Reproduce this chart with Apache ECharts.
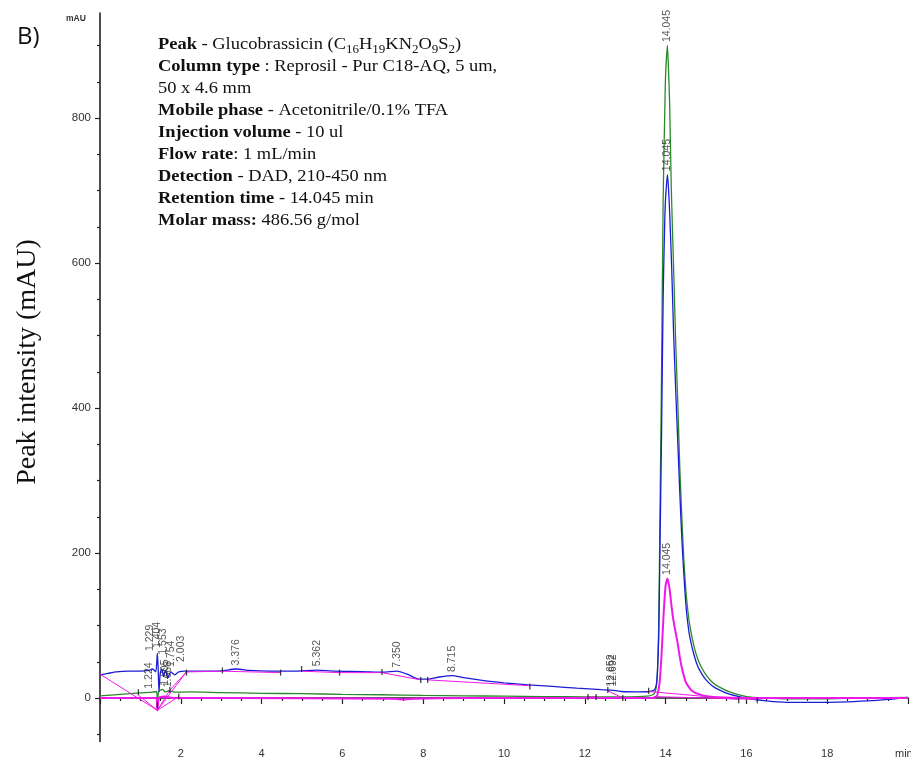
<!DOCTYPE html>
<html>
<head>
<meta charset="utf-8">
<script src="https://cdn.jsdelivr.net/npm/echarts@6/dist/echarts.min.js"></script>
<style>html,body{margin:0;padding:0;background:#fff}#c{width:911px;height:760px}</style>
</head>
<body>
<div id="c"></div>
<script>
// ---- data (time in min, intensity in mAU) ----
const xTickLabels = [2, 4, 6, 8, 10, 12, 14, 16, 18];
const yTickLabels = [0, 200, 400, 600, 800];
const yMinorTicks = [-50, 50, 100, 150, 250, 300, 350, 450, 500, 550, 650, 700, 750, 850, 900];

const blueTrace = [
  [0, 32], [0.2, 34], [0.4, 36], [0.7, 37], [1.0, 37], [1.2, 38], [1.3, 40], [1.38, 36],
  [1.42, 62], [1.44, 40], [1.46, 8], [1.49, 34], [1.53, 40], [1.57, 30], [1.62, 38],
  [1.68, 28], [1.75, 36], [1.85, 32], [1.95, 36], [2.1, 37], [2.5, 37], [3.0, 37.5],
  [3.376, 40], [3.7, 38], [4.2, 37], [4.8, 37], [5.362, 38.5], [5.8, 37], [6.5, 36.5],
  [7.0, 35.5], [7.35, 37], [7.6, 33], [7.9, 26], [8.1, 26], [8.4, 29], [8.715, 31],
  [9.0, 28], [9.5, 24], [10.0, 21], [10.6, 18], [11.2, 16], [11.8, 13.5], [12.4, 11.5],
  [12.65, 11], [12.9, 9], [13.3, 8.5], [13.6, 9], [13.72, 11], [13.77, 18], [13.80, 38],
  [13.83, 85], [13.86, 205], [13.90, 365], [13.94, 555], [13.98, 660], [14.00, 690],
  [14.045, 722], [14.07, 705], [14.10, 670], [14.15, 595], [14.20, 500], [14.25, 425],
  [14.30, 355], [14.35, 285], [14.40, 222], [14.45, 172], [14.50, 130], [14.55, 103],
  [14.60, 84], [14.70, 60], [14.80, 43], [14.90, 33], [15.00, 25], [15.15, 17], [15.30, 12],
  [15.60, 5], [16.00, 0], [16.50, -4], [17.00, -6], [18.00, -6], [19.00, -4], [19.50, -2],
  [20.00, 1]
];

const greenTrace = [
  [0, 3], [0.5, 5], [1.0, 7], [1.3, 8], [1.40, 9], [1.42, -8], [1.45, 9], [1.55, 12],
  [1.62, 8], [1.7, 10], [1.85, 8], [2.2, 8.5], [3, 7.5], [4, 6.5], [5, 6], [6, 5], [7, 4.5],
  [8, 3.5], [9, 3], [10, 2.5], [11, 2], [12, 1.5], [12.9, 1.5], [13.6, 3], [13.72, 6],
  [13.77, 16], [13.80, 40], [13.83, 100], [13.86, 250], [13.90, 450], [13.94, 690],
  [13.98, 810], [14.00, 860], [14.045, 900], [14.07, 870], [14.10, 820], [14.14, 705],
  [14.20, 590], [14.25, 490], [14.30, 410], [14.35, 320], [14.40, 252], [14.45, 192],
  [14.50, 150], [14.55, 121], [14.60, 100], [14.70, 72], [14.80, 53], [14.90, 41],
  [15.00, 32], [15.15, 22], [15.30, 16], [15.60, 8], [16.00, 2], [16.50, 0], [17, -1],
  [18, -1], [19, 0], [20, 1]
];

const magentaTrace = [
  [0, 0], [1.0, 0], [1.38, 0], [1.42, -17], [1.46, 0], [1.6, 2], [1.8, 0], [3, 0], [7.2, -1],
  [7.5, -2], [7.8, -1], [9, 0], [13.7, 0], [13.77, 2], [13.80, 5], [13.85, 20], [13.90, 60],
  [13.95, 115], [14.00, 155], [14.045, 165], [14.10, 150], [14.15, 125], [14.20, 105],
  [14.25, 90], [14.30, 75], [14.35, 57], [14.40, 42], [14.50, 22], [14.65, 10], [14.9, 4],
  [15.3, 1], [16, 0], [20, 0]
];

const baselineSegments = [
  [[0, 33], [1.42, -17]], [[0.95, 4], [1.42, -17]], [[1.42, -17], [1.73, 11]],
  [[1.42, -17], [2.14, 36]], [[1.73, 11], [2.14, 36]], [[1.42, -17], [1.95, 2]],
  [[2.14, 36], [3.03, 37]], [[3.03, 37], [4.47, 35]], [[4.99, 37], [5.93, 35]],
  [[5.93, 35], [6.98, 35]], [[6.98, 35], [7.94, 25]], [[8.11, 25], [10.64, 17]],
  [[12.08, 1.5], [12.28, 1.5]], [[12.57, 10], [12.94, 0]], [[13.58, 9], [15.81, -2]],
  [[13.7, 2], [16.27, -2]]
];

const integrationMarks = [
  [0.95, 8], [1.42, -10], [1.73, 11], [1.95, 2], [2.14, 35], [3.03, 38], [4.47, 35],
  [4.99, 40], [5.93, 35], [6.98, 36], [7.94, 25], [8.11, 25], [10.64, 16], [12.08, 1.5],
  [12.28, 1.5], [12.57, 11], [12.94, 0], [13.58, 10], [15.81, -3], [16.27, -3]
];

const peakLabels = [
  [1.229, 60, '1.229'], [1.22, 8, '1.224'], [1.404, 64, '1.404'], [1.553, 55, '1.553'],
  [1.605, 12, '1.605'], [1.68, 10, '1.668'], [1.754, 38, '1.754'], [2.003, 45, '2.003'],
  [3.376, 40, '3.376'], [5.362, 39, '5.362'], [7.350, 37, '7.350'], [8.715, 31, '8.715'],
  [12.652, 11, '12.652'], [12.692, 11, '12.692'],
  [14.045, 900, '14.045'], [14.045, 722, '14.045'], [14.045, 165, '14.045']
];

// ---- build ----
const baselineData = [];
baselineSegments.forEach(s => { baselineData.push(s[0], s[1], null); });

const chart = echarts.init(document.getElementById('c'), null, {renderer: 'canvas'});
const Y_MIN = -60, Y_MAX = 945;

const infoText = [
  '{b|Peak} - Glucobrassicin (C{s|16}H{s|19}KN{s|2}O{s|9}S{s|2})',
  '{b|Column type} : Reprosil - Pur C18-AQ, 5 um,',
  '50 x 4.6 mm',
  '{b|Mobile phase} - Acetonitrile/0.1% TFA',
  '{b|Injection volume} - 10 ul',
  '{b|Flow rate}: 1 mL/min',
  '{b|Detection} - DAD, 210-450 nm',
  '{b|Retention time} - 14.045 min',
  '{b|Molar mass:} 486.56 g/mol'
].join('\n');

const lineCommon = {type: 'line', showSymbol: false, smooth: 0.2};

const option = {
  animation: false,
  backgroundColor: '#fff',
  grid: {left: 100, right: -4, top: 13, bottom: 18.5, containLabel: false},
  xAxis: {
    type: 'value', min: 0, max: 20, interval: 2,
    axisLine: {show: true, lineStyle: {color: '#222', width: 1.6}},
    axisTick: {show: true, length: 6, lineStyle: {color: '#222', width: 1.2}},
    minorTick: {show: true, splitNumber: 4, length: 3, lineStyle: {color: '#222', width: 1.2}},
    axisLabel: {
      fontSize: 11, color: '#333', margin: 7, fontFamily: 'Liberation Sans',
      formatter: v => (xTickLabels.indexOf(v) >= 0 ? String(v) : '')
    },
    splitLine: {show: false}
  },
  yAxis: [{
    type: 'value', min: Y_MIN, max: Y_MAX, position: 'left',
    axisLine: {show: true, lineStyle: {color: '#222', width: 1.6}},
    axisTick: {show: true, length: 5, customValues: yTickLabels, lineStyle: {color: '#222', width: 1.2}},
    axisLabel: {show: true, customValues: yTickLabels, fontSize: 11.5, color: '#333', margin: 9, fontFamily: 'Liberation Sans'},
    splitLine: {show: false}
  }, {
    type: 'value', min: Y_MIN, max: Y_MAX, position: 'left', offset: 0,
    axisLine: {show: false},
    axisTick: {show: true, length: 3, customValues: yMinorTicks, lineStyle: {color: '#222', width: 1.2}},
    axisLabel: {show: false},
    splitLine: {show: false}
  }],
  series: [
    Object.assign({}, lineCommon, {data: greenTrace, lineStyle: {color: '#2a8a2a', width: 1.3}, z: 2}),
    Object.assign({}, lineCommon, {data: blueTrace, lineStyle: {color: '#1c1cd8', width: 1.3}, z: 3}),
    Object.assign({}, lineCommon, {data: magentaTrace, lineStyle: {color: '#f018e8', width: 2}, z: 4}),
    {type: 'line', data: baselineData, showSymbol: false, connectNulls: false,
     lineStyle: {color: '#f018e8', width: 1}, z: 5},
    {type: 'scatter', data: integrationMarks, symbol: 'rect', symbolSize: [1.3, 6],
     itemStyle: {color: '#111'}, z: 6},
    {type: 'scatter', data: peakLabels, symbolSize: 1, itemStyle: {color: 'rgba(0,0,0,0)'}, z: 7,
     label: {show: true, position: 'top', distance: 3, rotate: 90, align: 'left', verticalAlign: 'middle',
       fontSize: 10.5, color: '#2a2a2a', fontFamily: 'Liberation Sans', formatter: p => p.value[2]}}
  ],
  graphic: [
    {type: 'text', left: 17, top: 25, style: {text: 'B)', fontSize: 24, fontFamily: 'Open Sans', fill: '#111'}},
    {type: 'text', x: 66, y: 19, style: {text: 'mAU', fontSize: 8.5, fontFamily: 'Liberation Sans', fontWeight: 'bold', fill: '#333', verticalAlign: 'middle'}},
    {type: 'text', x: 895, y: 754, style: {text: 'min', fontSize: 11, fontFamily: 'Liberation Sans', fill: '#333', verticalAlign: 'middle'}},
    {type: 'text', x: 28, y: 362, rotation: Math.PI / 2,
     style: {text: 'Peak intensity (mAU)', fontSize: 28, fontFamily: 'Liberation Serif', fill: '#111', align: 'center', verticalAlign: 'middle'}},
    {type: 'group', x: 158, y: 34, scaleX: 1.085, children: [
      {type: 'text', x: 0, y: 0, style: {
        text: infoText, fontSize: 17, fontFamily: 'Liberation Serif', fill: '#111', lineHeight: 22,
        align: 'left', verticalAlign: 'top',
        rich: {
          b: {fontSize: 17, fontFamily: 'Liberation Serif', fontWeight: 'bold', fill: '#111', lineHeight: 22},
          s: {fontSize: 12, fontFamily: 'Liberation Serif', fill: '#111', lineHeight: 12, verticalAlign: 'bottom'}
        }
      }}
    ]}
  ]
};
chart.setOption(option);
</script>
</body>
</html>
